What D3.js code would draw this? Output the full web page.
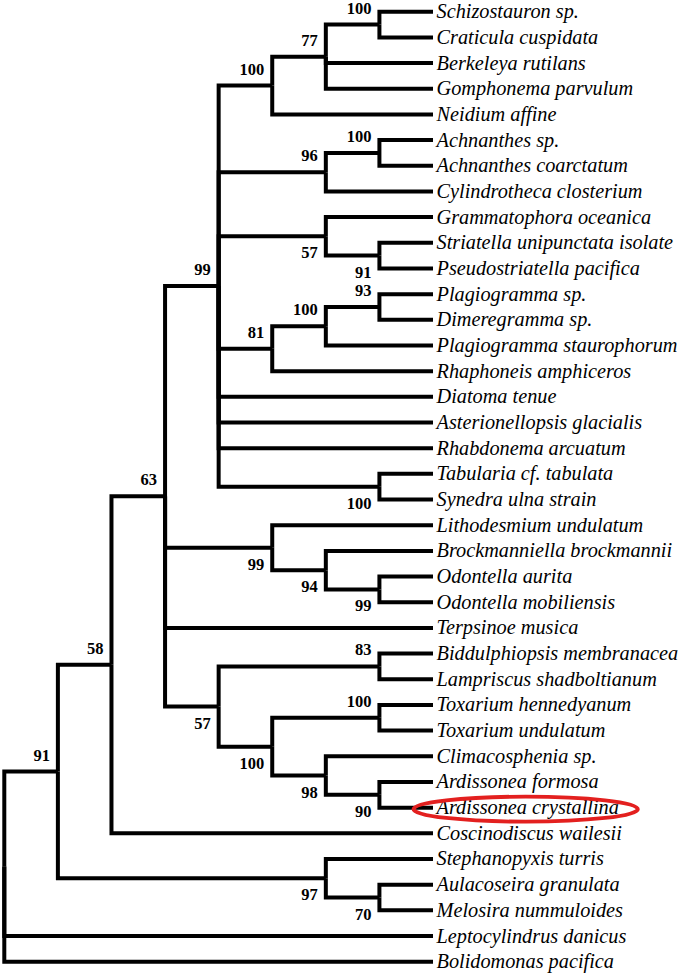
<!DOCTYPE html>
<html><head><meta charset="utf-8">
<script src="https://cdn.jsdelivr.net/npm/d3@7"></script>
<style>html,body{margin:0;padding:0;background:#fff;} svg{display:block;}</style>
</head><body><svg id="chart"></svg>
<script>
// ---- DATA ----
const species = [
  "Schizostauron sp.", "Craticula cuspidata", "Berkeleya rutilans", "Gomphonema parvulum",
  "Neidium affine", "Achnanthes sp.", "Achnanthes coarctatum", "Cylindrotheca closterium",
  "Grammatophora oceanica", "Striatella unipunctata isolate", "Pseudostriatella pacifica",
  "Plagiogramma sp.", "Dimeregramma sp.", "Plagiogramma staurophorum", "Rhaphoneis amphiceros",
  "Diatoma tenue", "Asterionellopsis glacialis", "Rhabdonema arcuatum", "Tabularia cf. tabulata",
  "Synedra ulna strain", "Lithodesmium undulatum", "Brockmanniella brockmannii", "Odontella aurita",
  "Odontella mobiliensis", "Terpsinoe musica", "Biddulphiopsis membranacea", "Lampriscus shadboltianum",
  "Toxarium hennedyanum", "Toxarium undulatum", "Climacosphenia sp.", "Ardissonea formosa",
  "Ardissonea crystallina", "Coscinodiscus wailesii", "Stephanopyxis turris", "Aulacoseira granulata",
  "Melosira nummuloides", "Leptocylindrus danicus", "Bolidomonas pacifica"
];
const speciesClade = [
  "c100b", "c100b", "c77", "c77",
  "c100a", "c100c", "c100c", "c96",
  "c57a", "c91b", "c91b",
  "c93", "c93", "c100d", "c81",
  "c99a", "c99a", "c99a", "c100e",
  "c100e", "c99b", "c94", "c99c",
  "c99c", "c63", "c83", "c83",
  "c100g", "c100g", "c98", "c90",
  "c90", "c58", "c97", "c70",
  "c70", "root", "root"
];
const clades       = ["root","c91","c58","c63","c99a","c100a","c77","c100b","c96","c100c","c57a","c91b","c81","c100d","c93","c100e","c99b","c94","c99c","c57b","c83","c100f","c100g","c98","c90","c97","c70"];
const cladeParents = ["",    "root","c91","c58","c63", "c99a", "c100a","c77","c99a","c96",  "c99a","c57a","c99a","c81", "c100d","c99a","c63","c99b","c94","c63","c57b","c57b","c100f","c100f","c98","c91","c97"];
const cladeSupport = ["",    "91", "58", "63", "99",  "100",  "77", "100", "96", "100",  "57",  "91",  "81", "100", "93",  "100", "99", "94", "99", "57", "83", "100", "100", "98", "90", "97", "70"];
const supportBelow = ["c57a","c91b","c100e","c99b","c94","c99c","c57b","c100f","c98","c90","c97","c70"];
const highlighted = "Ardissonea crystallina";

// ---- LAYOUT ----
const W = 685, H = 974;
const svg = d3.select("#chart").attr("width", W).attr("height", H);
svg.append("rect").attr("width", W).attr("height", H).attr("fill", "#fff");

const rows = clades.map((id, i) => ({id, parentId: cladeParents[i] || null, support: cladeSupport[i]}))
  .concat(species.map((s, i) => ({id: s, parentId: speciesClade[i], leaf: true})));
const root = d3.stratify().id(d => d.id).parentId(d => d.parentId)(rows);

const y = d3.scalePoint().domain(species).range([11.7, 961.7]);
const x = d3.scaleLinear().domain([0, root.height]).range([4.3, 433]);

root.eachAfter(n => {
  if (!n.children) { n.py = y(n.id); n.ord = species.indexOf(n.id); }
  else {
    n.children.sort((a, b) => a.ord - b.ord);
    n.ord = n.children[0].ord;
    n.py = (n.children[0].py + n.children[n.children.length - 1].py) / 2;
  }
  n.px = x(root.height - n.height);
});

// branches
svg.append("g")
  .attr("fill", "none").attr("stroke", "#000").attr("stroke-width", 4)
  .attr("stroke-linejoin", "miter").attr("stroke-linecap", "butt")
  .selectAll("path").data(root.links()).join("path")
  .attr("d", l => `M${l.source.px},${l.source.py}V${l.target.py}H${l.target.px}`);

// species labels
svg.append("g")
  .attr("font-family", "'Liberation Serif','Times New Roman',serif")
  .attr("font-style", "italic").attr("font-size", 20.3).attr("fill", "#000")
  .selectAll("text").data(root.leaves()).join("text")
  .attr("class", "sp")
  .attr("x", d => d.px + 3.5).attr("y", d => d.py + 6.5)
  .text(d => d.id);

// support values
const internal = root.descendants().filter(d => d.children && d.data.support);
svg.append("g")
  .attr("font-family", "'Liberation Serif','Times New Roman',serif")
  .attr("font-weight", "bold").attr("font-size", 16.5).attr("fill", "#000")
  .attr("text-anchor", "end")
  .selectAll("text").data(internal).join("text")
  .attr("x", d => d.px - 8)
  .attr("y", d => supportBelow.includes(d.id) ? d.py + 22 : d.py - 11)
  .text(d => d.data.support);

// highlight ellipse
const hl = root.leaves().find(d => d.id === highlighted);
const tx = hl.px + 3.5;
const tw = svg.selectAll("text.sp").filter(d => d.id === highlighted).node().getComputedTextLength();
svg.append("ellipse")
  .attr("cx", tx + tw / 2 - 2).attr("cy", hl.py + 1.5)
  .attr("rx", tw / 2 + 21).attr("ry", 12.5)
  .attr("fill", "none").attr("stroke", "#e3201f").attr("stroke-width", 3.8);
</script>
</body></html>
